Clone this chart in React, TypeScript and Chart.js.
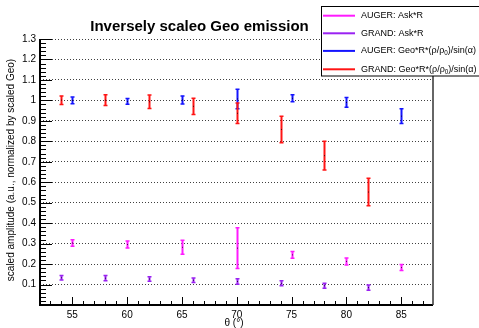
import React, { useEffect, useRef } from 'react';
import { Chart, registerables } from 'chart.js';

Chart.register(...registerables);

const TITLE = 'Inversely scaleo Geo emission';
const X_TITLE = 'θ (°)';
const Y_TITLE = 'scaled amplitude (a.u., normalized by scaled Geo)';

const AUGER_THETA = [55, 60, 65, 70, 75, 80, 85];
const GRAND_THETA = [54, 58, 62, 66, 70, 74, 78, 82];

const AUGER_ASK = [0.303, 0.296, 0.282, 0.278, 0.245, 0.213, 0.183];
const AUGER_ASK_ERR = [0.016, 0.017, 0.034, 0.1, 0.017, 0.017, 0.015];
const GRAND_ASK = [0.133, 0.131, 0.127, 0.121, 0.115, 0.106, 0.094, 0.085];
const GRAND_ASK_ERR = [0.011, 0.013, 0.011, 0.011, 0.013, 0.012, 0.012, 0.013];
const AUGER_GEO = [1.0, 0.995, 1.002, 1.007, 1.01, 0.99, 0.923];
const AUGER_GEO_ERR = [0.016, 0.014, 0.02, 0.048, 0.017, 0.024, 0.036];
const GRAND_GEO = [1.001, 1.001, 0.993, 0.971, 0.937, 0.858, 0.73, 0.552];
const GRAND_GEO_ERR = [0.021, 0.026, 0.033, 0.04, 0.05, 0.065, 0.07, 0.067];

const SERIES_LABELS = [
  'AUGER: Ask*R',
  'GRAND: Ask*R',
  'AUGER: Geo*R*(ρ/ρ_0)/sin(α)',
  'GRAND: Geo*R*(ρ/ρ_0)/sin(α)',
];
const SERIES_COLORS = ['#ff1aff', '#9a22f2', '#1414ff', '#ff1414'];

const Y_TICKS = [0.1, 0.2, 0.3, 0.4, 0.5, 0.6, 0.7, 0.8, 0.9, 1.0, 1.1, 1.2, 1.3];
const X_TICKS = [55, 60, 65, 70, 75, 80, 85];

const FONT = '"Liberation Sans", Arial, Helvetica, sans-serif';

function drawLabelWithSub(ctx: CanvasRenderingContext2D, text: string, x: number, y: number, size: number) {
  const parts = text.split(/_(.)/);
  let cx = x;
  parts.forEach((part, i) => {
    if (!part) return;
    if (i % 2 === 1) {
      ctx.font = `${size * 0.7}px ${FONT}`;
      ctx.fillText(part, cx, y + size * 0.3);
      cx += ctx.measureText(part).width;
    } else {
      ctx.font = `${size}px ${FONT}`;
      ctx.fillText(part, cx, y);
      cx += ctx.measureText(part).width;
    }
  });
}

const rootPlugin = {
  id: 'rootStyle',
  afterDatasetsDraw(chart: any) {
    const ctx: CanvasRenderingContext2D = chart.ctx;
    const xs = chart.scales.x;
    const ys = chart.scales.y;
    ctx.save();
    chart.data.datasets.forEach((ds: any) => {
      const errs: number[] = ds.errors;
      ds.data.forEach((p: any, j: number) => {
        const px = Math.round(xs.getPixelForValue(p.x)) + 0.5;
        const y1 = ys.getPixelForValue(p.y + errs[j]);
        const y2 = ys.getPixelForValue(p.y - errs[j]);
        const yc = ys.getPixelForValue(p.y);
        ctx.strokeStyle = ds.borderColor;
        ctx.lineWidth = 2;
        ctx.beginPath();
        ctx.moveTo(px, y1);
        ctx.lineTo(px, y2);
        ctx.stroke();
        ctx.lineWidth = 1.5;
        ctx.beginPath();
        ctx.moveTo(px - 2, y1);
        ctx.lineTo(px + 2, y1);
        ctx.moveTo(px - 2, y2);
        ctx.lineTo(px + 2, y2);
        ctx.stroke();
        ctx.fillStyle = 'rgba(0,0,0,0.7)';
        ctx.fillRect(px - 0.5, yc - 0.5, 1, 1);
      });
    });
    ctx.restore();
  },
  afterDraw(chart: any) {
    const ctx: CanvasRenderingContext2D = chart.ctx;
    const xs = chart.scales.x;
    const ys = chart.scales.y;
    const { left, right, top, bottom } = chart.chartArea;
    ctx.save();
    // frame
    ctx.strokeStyle = '#000';
    ctx.lineWidth = 2;
    ctx.beginPath();
    ctx.moveTo(left, top);
    ctx.lineTo(left, bottom);
    ctx.lineTo(right, bottom);
    ctx.stroke();
    ctx.strokeStyle = '#333';
    ctx.lineWidth = 1.5;
    ctx.beginPath();
    ctx.moveTo(right, top);
    ctx.lineTo(right, bottom);
    ctx.stroke();

    // x ticks (inward)
    ctx.strokeStyle = '#000';
    ctx.lineWidth = 1;
    ctx.beginPath();
    for (let v = Math.ceil(xs.min); v <= xs.max; v += 1) {
      const px = Math.round(xs.getPixelForValue(v)) + 0.5;
      const len = v % 5 === 0 ? 8 : 4;
      ctx.moveTo(px, bottom);
      ctx.lineTo(px, bottom - len);
    }
    ctx.stroke();
    // y ticks (inward)
    ctx.beginPath();
    for (let k = 1; k * 0.02 <= ys.max + 1e-9; k++) {
      const v = k * 0.02;
      const py = Math.round(ys.getPixelForValue(v)) + 0.5;
      const len = k % 5 === 0 ? 12 : 6;
      ctx.moveTo(left, py);
      ctx.lineTo(left + len, py);
    }
    ctx.stroke();

    // title
    ctx.fillStyle = '#000';
    ctx.font = `bold 15px ${FONT}`;
    ctx.textAlign = 'center';
    ctx.textBaseline = 'middle';
    ctx.fillText(TITLE, 199.5, 26.5);

    // axis titles
    ctx.font = `10px ${FONT}`;
    ctx.fillText(X_TITLE, 234, 323);
    ctx.save();
    ctx.translate(11, 170);
    ctx.rotate(-Math.PI / 2);
    ctx.fillText(Y_TITLE, 0, 0);
    ctx.restore();

    // legend
    ctx.fillStyle = '#fff';
    ctx.fillRect(321.5, 6.5, 160, 69.5);
    ctx.strokeStyle = '#000';
    ctx.lineWidth = 1;
    ctx.strokeRect(321.5, 6.5, 160, 69.5);
    const rows = [15.7, 33.3, 50.9, 69.3];
    SERIES_LABELS.forEach((label, i) => {
      const y = rows[i];
      ctx.strokeStyle = SERIES_COLORS[i];
      ctx.lineWidth = 2;
      ctx.beginPath();
      ctx.moveTo(323, y);
      ctx.lineTo(355, y);
      ctx.stroke();
      ctx.fillStyle = '#000';
      ctx.textAlign = 'left';
      ctx.textBaseline = 'middle';
      drawLabelWithSub(ctx, label, 361, y, 9);
    });
    ctx.restore();
  },
};

function mk(xs: number[], ys: number[], errs: number[], i: number) {
  return {
    label: SERIES_LABELS[i],
    data: xs.map((x, j) => ({ x, y: ys[j] })),
    errors: errs,
    borderColor: SERIES_COLORS[i],
    backgroundColor: SERIES_COLORS[i],
    pointRadius: 0,
    showLine: false,
  };
}

export default function App() {
  const ref = useRef<HTMLCanvasElement>(null);
  useEffect(() => {
    if (!ref.current) return;
    const chart = new Chart(ref.current, {
      type: 'scatter',
      data: {
        datasets: [
          mk(AUGER_THETA, AUGER_ASK, AUGER_ASK_ERR, 0),
          mk(GRAND_THETA, GRAND_ASK, GRAND_ASK_ERR, 1),
          mk(AUGER_THETA, AUGER_GEO, AUGER_GEO_ERR, 2),
          mk(GRAND_THETA, GRAND_GEO, GRAND_GEO_ERR, 3),
        ] as any,
      },
      options: {
        animation: false,
        responsive: false,
        devicePixelRatio: 1,
        layout: { padding: { left: 0, top: 39, right: 46, bottom: 0 } },
        plugins: { legend: { display: false }, tooltip: { enabled: false }, title: { display: false } },
        scales: {
          x: {
            type: 'linear',
            min: 52.05,
            max: 87.9,
            afterBuildTicks: (s: any) => {
              s.ticks = X_TICKS.map((v) => ({ value: v }));
            },
            afterFit: (s: any) => {
              s.height = 23;
            },
            grid: { display: false, drawTicks: false },
            border: { display: false },
            ticks: {
              padding: 4,
              color: '#000',
              font: { family: FONT, size: 10 },
              maxRotation: 0,
              autoSkip: false,
              callback: (v: any) => String(v),
            },
          },
          y: {
            type: 'linear',
            min: 0,
            max: 1.3,
            afterBuildTicks: (s: any) => {
              s.ticks = Y_TICKS.map((v) => ({ value: v }));
            },
            afterFit: (s: any) => {
              s.width = 40;
            },
            grid: { display: true, drawTicks: false, color: 'rgba(0,0,0,0.75)', lineWidth: 1 },
            border: { display: false, dash: [1, 2] },
            ticks: {
              padding: 4,
              color: '#000',
              font: { family: FONT, size: 10 },
              autoSkip: false,
              callback: (v: any) => String(+Number(v).toFixed(1)),
            },
          },
        },
      } as any,
      plugins: [rootPlugin],
    });
    return () => chart.destroy();
  }, []);
  return (
    <div style={{ position: 'absolute', left: 0, top: 0, width: 479, height: 328, background: '#fff' }}>
      <canvas ref={ref} width={479} height={328} />
    </div>
  );
}
